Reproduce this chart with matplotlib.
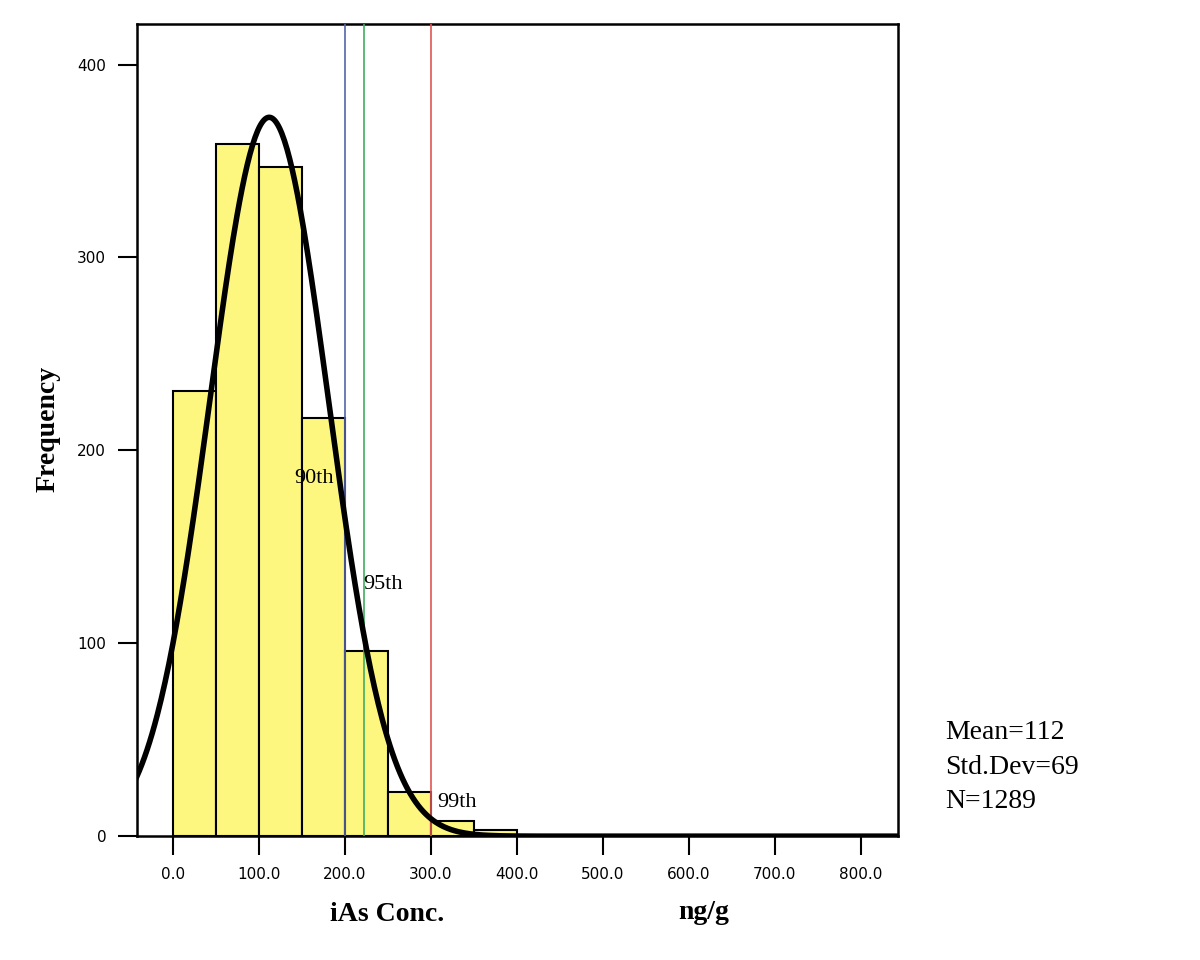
import numpy as np
import matplotlib.pyplot as plt

# histogram of iAs concentration (bin width 50 ng/g)
bin_edges = [0, 50, 100, 150, 200, 250, 300, 350, 400]
frequencies = [231, 359, 347, 217, 96, 23, 8, 3]

# summary stats printed on the chart, used for the fitted normal curve
mean_val = 112
std_val = 69
n_total = 1289

# percentile markers
pct_labels = ["90th", "95th", "99th"]
pct_values = [200, 222, 300]
pct_colors = ["#5565a8", "#3fae5f", "#e05555"]
pct_text_pos = [(141, 183), (221, 128), (307, 15)]

x_ticks = [0, 100, 200, 300, 400, 500, 600, 700, 800]
y_ticks = [0, 100, 200, 300, 400]

fig = plt.figure(figsize=(12, 9.6), dpi=100)
ax = fig.add_axes([0.114, 0.129, 0.634, 0.846])

widths = np.diff(bin_edges)
ax.bar(bin_edges[:-1], frequencies, width=widths, align="edge",
       color="#fdf77f", edgecolor="black", linewidth=1.5, zorder=2)

# normal curve scaled to counts
xs = np.linspace(-45, 850, 600)
bw = bin_edges[1] - bin_edges[0]
ys = n_total * bw / (std_val * np.sqrt(2 * np.pi)) * np.exp(-0.5 * ((xs - mean_val) / std_val) ** 2)
ax.plot(xs, ys, color="black", linewidth=4, zorder=4)

for val, col in zip(pct_values, pct_colors):
    ax.axvline(val, color=col, linewidth=1.2, zorder=3)
for lab, (tx, ty) in zip(pct_labels, pct_text_pos):
    ax.text(tx, ty, lab, fontsize=16, family="Liberation Serif", zorder=5)

ax.set_xlim(-42, 843)
ax.set_ylim(0, 421)
ax.set_xticks(x_ticks)
ax.set_xticklabels([f"{v:.1f}" for v in x_ticks], family="DejaVu Sans", fontsize=11)
ax.set_yticks(y_ticks)
ax.set_yticklabels([str(v) for v in y_ticks], family="DejaVu Sans", fontsize=11)
ax.tick_params(direction="out", length=14, width=1.5, pad=8)
for s in ax.spines.values():
    s.set_linewidth(1.8)

fig.text(0.04, 0.553, "Frequency", rotation=90, ha="center", va="center",
         fontsize=20, fontweight="bold", family="Liberation Serif")
fig.text(0.275, 0.047, "iAs Conc.", ha="left", va="center",
         fontsize=20, fontweight="bold", family="Liberation Serif")
fig.text(0.565, 0.049, "ng/g", ha="left", va="center",
         fontsize=20, fontweight="bold", family="Liberation Serif")

stats_lines = [f"Mean={mean_val}", f"Std.Dev={std_val}", f"N={n_total}"]
for i, line in enumerate(stats_lines):
    fig.text(0.788, 0.237 - i * 0.036, line, ha="left", va="center",
             fontsize=20, family="Liberation Serif")

fig.savefig("out.png", dpi=100)
